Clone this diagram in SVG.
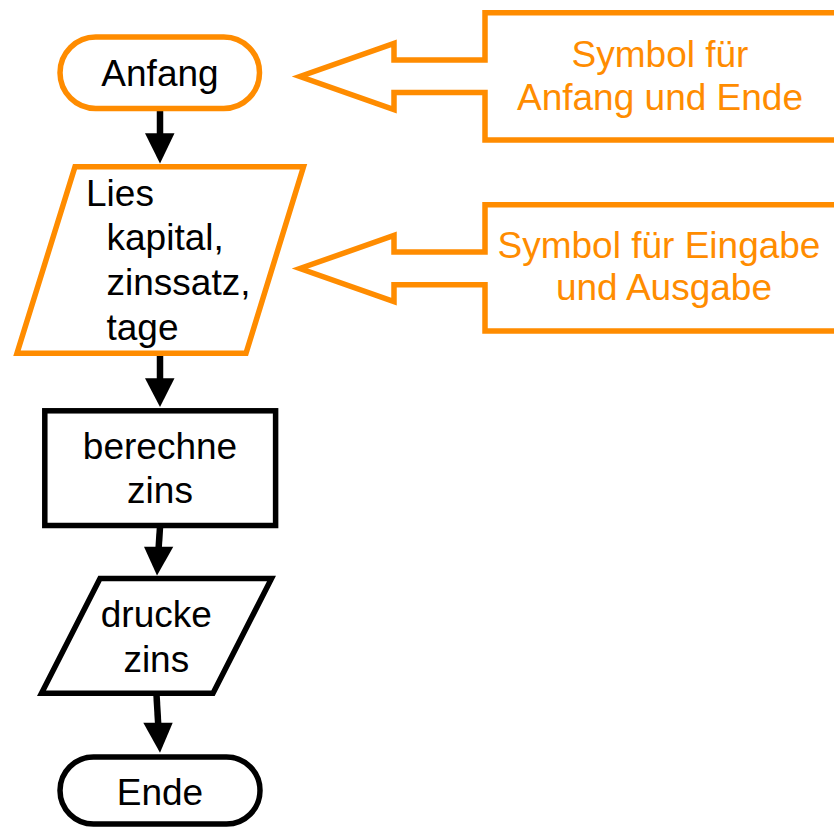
<svg xmlns="http://www.w3.org/2000/svg" width="834" height="827" viewBox="0 0 834 827">
<style>
.bg{fill:#ffffff}
.node{fill:#ffffff;stroke:#000000;stroke-width:5.5;stroke-linejoin:miter}
.onode{fill:#ffffff;stroke:#FF8C00;stroke-width:5.5;stroke-linejoin:miter}
.t{font-family:"Liberation Sans",Arial,sans-serif;font-size:37px;fill:#000000}
.ot{font-family:"Liberation Sans",Arial,sans-serif;font-size:37px;fill:#FF8C00}
.mid{text-anchor:middle}
.shaft{stroke:#000000;stroke-width:6.5;fill:none}
.head{fill:#000000;stroke:none}
</style>
<rect class="bg" x="0" y="0" width="834" height="827"/>

<g id="callout-terminal">
<path class="onode" d="M838,12.7 L485,12.7 L485,60 L394,60 L394,43.5 L300,76.5 L394,109.5 L394,92.5 L485,92.5 L485,140 L838,140"/>
<text class="ot mid" x="660" y="67">Symbol für</text>
<text class="ot mid" x="660" y="110">Anfang und Ende</text>
</g>

<g id="callout-io">
<path class="onode" d="M838,204.7 L485,204.7 L485,252 L394,252 L394,235.5 L300,268.5 L394,301.5 L394,284.7 L485,284.7 L485,331 L838,331"/>
<text class="ot mid" x="659" y="258">Symbol für Eingabe</text>
<text class="ot mid" x="664" y="300">und Ausgabe</text>
</g>

<g id="connectors">
<line class="shaft" x1="160" y1="111" x2="160" y2="136"/>
<polygon class="head" points="145,133.3 174.5,133.3 160,163.5"/>
<line class="shaft" x1="160" y1="355" x2="160" y2="381"/>
<polygon class="head" points="145,378.3 174.5,378.3 160,407"/>
<line class="shaft" x1="160" y1="527" x2="158.5" y2="550"/>
<polygon class="head" points="144,546.7 173.3,546.7 157,575.5"/>
<line class="shaft" x1="156.5" y1="695" x2="158.3" y2="726"/>
<polygon class="head" points="143.3,722.7 172.7,722.7 160,752.7"/>
</g>

<g id="anfang">
<rect class="onode" x="60" y="37" width="199.5" height="71.5" rx="35.7" ry="35.7"/>
<text class="t mid" x="160" y="86">Anfang</text>
</g>

<g id="lies">
<polygon class="onode" points="75,166.7 303.5,166.7 246,353.3 17,353.3"/>
<text class="t" x="86" y="205.5">Lies</text>
<text class="t" x="106.5" y="250">kapital,</text>
<text class="t" x="106.5" y="295">zinssatz,</text>
<text class="t" x="106.5" y="340">tage</text>
</g>

<g id="berechne">
<rect class="node" x="44.8" y="410.8" width="230.8" height="114.7"/>
<text class="t mid" x="160" y="459.3">berechne</text>
<text class="t mid" x="160" y="503.3">zins</text>
</g>

<g id="drucke">
<polygon class="node" points="100,578.5 271.5,578.5 213,693.3 41.5,693.3"/>
<text class="t mid" x="156.3" y="627.3">drucke</text>
<text class="t mid" x="156.3" y="671.7">zins</text>
</g>

<g id="ende">
<rect class="node" x="60" y="757" width="200" height="67" rx="33.5" ry="33.5"/>
<text class="t mid" x="160" y="805">Ende</text>
</g>
</svg>
